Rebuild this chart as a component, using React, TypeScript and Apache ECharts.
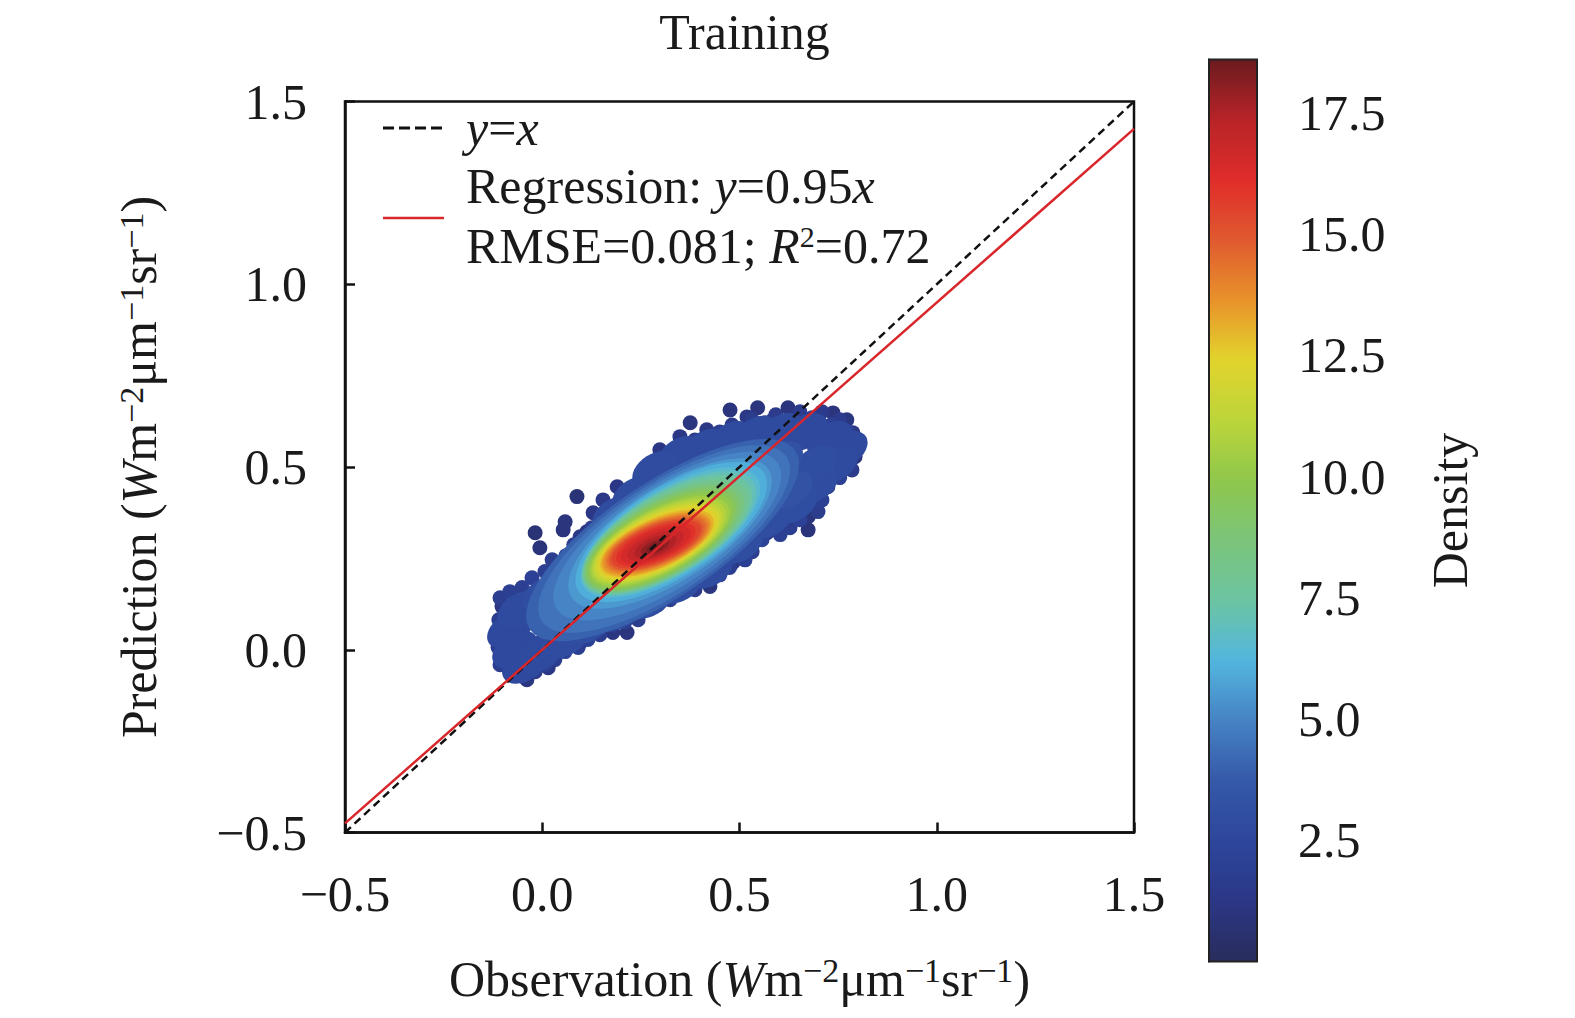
import * as echarts from "echarts"
import { useEffect, useRef } from "react"

const axisMin = -0.5
const axisMax = 1.5
const axisStep = 0.5
const densityMin = 0
const densityMax = 18.6
const densityTicks = [2.5, 5, 7.5, 10, 12.5, 15, 17.5]

const identityLine = [[-0.5, -0.5], [1.5, 1.5]]
const regressionLine = [[-0.5, -0.475], [1.5, 1.425]]

// [observation, prediction, density] - dense core, one mark per density level
const corePoints = [
    [0.305, 0.300, 4.0],
    [0.309, 0.303, 4.5],
    [0.317, 0.311, 5.0],
    [0.324, 0.318, 5.5],
    [0.327, 0.322, 6.0],
    [0.325, 0.321, 6.5],
    [0.321, 0.318, 7.0],
    [0.317, 0.315, 7.5],
    [0.313, 0.311, 8.0],
    [0.309, 0.307, 8.5],
    [0.305, 0.304, 9.0],
    [0.302, 0.301, 9.5],
    [0.300, 0.299, 10.0],
    [0.298, 0.297, 10.5],
    [0.296, 0.296, 11.0],
    [0.294, 0.294, 11.5],
    [0.293, 0.293, 12.0],
    [0.292, 0.292, 12.5],
    [0.291, 0.291, 13.0],
    [0.290, 0.290, 13.5],
    [0.290, 0.290, 14.0],
    [0.290, 0.290, 14.5],
    [0.289, 0.289, 15.0],
    [0.289, 0.289, 15.5],
    [0.288, 0.288, 16.0],
    [0.288, 0.287, 16.5],
    [0.287, 0.285, 17.0],
    [0.287, 0.283, 17.5],
    [0.286, 0.281, 18.0],
    [0.286, 0.280, 18.4],
]

// body of the cloud
const bodyPoints = [
    [-0.056, 0.110, 2.8],
    [0.007, 0.151, 3.0],
    [0.070, 0.219, 3.0],
    [0.134, 0.287, 3.0],
    [0.184, 0.369, 2.9],
    [0.235, 0.424, 2.9],
    [0.286, 0.492, 2.9],
    [0.349, 0.533, 2.8],
    [0.412, 0.553, 2.8],
    [0.476, 0.574, 2.8],
    [0.539, 0.588, 2.8],
    [0.603, 0.596, 2.8],
    [0.666, 0.596, 2.7],
    [0.729, 0.574, 2.7],
    [0.767, 0.547, 2.7],
    [0.400, 0.479, 3.4],
    [0.501, 0.506, 3.3],
    [0.603, 0.520, 3.2],
    [0.691, 0.506, 3.0],
    [0.628, 0.438, 3.3],
    [-0.069, 0.000, 2.7],
    [-0.006, -0.013, 2.8],
    [0.058, 0.028, 2.9],
    [0.121, 0.069, 3.0],
    [0.197, 0.104, 3.0],
    [0.273, 0.137, 3.0],
    [0.349, 0.178, 3.0],
    [0.425, 0.219, 2.9],
    [0.501, 0.287, 3.0],
    [0.577, 0.356, 3.0],
    [0.640, 0.397, 3.0],
    [0.691, 0.451, 2.9],
    [0.742, 0.506, 2.8],
    [-0.082, 0.055, 2.7],
    [-0.044, -0.041, 2.7],
]

// points along the upper rim of the cloud
const upperRimPoints = [
    [-0.107, 0.142, 1.8], [-0.082, 0.159, 2.0], [-0.051, 0.170, 1.9], [-0.026, 0.197, 2.1],
    [0.007, 0.214, 1.9], [0.025, 0.246, 1.7], [0.060, 0.257, 2.0], [0.080, 0.287, 1.8],
    [0.111, 0.279, 2.1], [0.126, 0.334, 1.7], [0.151, 0.356, 2.0], [0.167, 0.389, 1.8],
    [0.202, 0.411, 2.1], [0.222, 0.438, 1.8], [0.260, 0.443, 2.2], [0.278, 0.492, 1.7],
    [0.309, 0.506, 2.0], [0.329, 0.541, 1.8], [0.364, 0.552, 2.1], [0.387, 0.574, 1.7],
    [0.420, 0.566, 2.2], [0.450, 0.596, 1.8], [0.481, 0.615, 1.6], [0.506, 0.602, 2.1],
    [0.532, 0.629, 1.7], [0.565, 0.621, 2.0], [0.592, 0.643, 1.6], [0.628, 0.629, 2.0],
    [0.653, 0.651, 1.6], [0.684, 0.635, 1.9], [0.709, 0.651, 1.5], [0.734, 0.616, 2.0],
    [0.754, 0.629, 1.6], [0.775, 0.596, 1.9], [0.785, 0.561, 1.7], [0.800, 0.574, 1.4],
    [0.770, 0.506, 1.9],
]

// points along the lower rim of the cloud
const lowerRimPoints = [
    [0.785, 0.492, 1.6], [0.754, 0.471, 2.0], [0.724, 0.446, 1.8], [0.709, 0.410, 2.0],
    [0.699, 0.378, 1.7], [0.653, 0.356, 2.1], [0.628, 0.334, 1.8], [0.603, 0.315, 2.0],
    [0.557, 0.301, 2.2], [0.532, 0.268, 1.8], [0.514, 0.246, 2.0], [0.475, 0.225, 1.8],
    [0.450, 0.205, 2.1], [0.412, 0.192, 1.9], [0.387, 0.164, 1.7], [0.354, 0.159, 2.0],
    [0.324, 0.137, 1.8], [0.293, 0.123, 2.1], [0.260, 0.110, 1.9], [0.243, 0.082, 1.7],
    [0.210, 0.077, 2.0], [0.177, 0.068, 1.9], [0.146, 0.041, 1.7], [0.116, 0.028, 2.0],
    [0.091, 0.006, 1.8], [0.058, -0.005, 2.0], [0.032, -0.027, 1.7], [0.007, -0.041, 1.9],
    [-0.018, -0.060, 1.6], [-0.051, -0.071, 1.8], [-0.082, -0.060, 1.6], [-0.107, -0.041, 1.7],
    [-0.112, 0.006, 1.6], [-0.115, 0.041, 1.8], [-0.110, 0.082, 1.7],
]

// sparse points and outliers
const outlierPoints = [
    [-0.102, 0.118, 1.2], [-0.100, 0.074, 1.4], [-0.094, 0.036, 1.5], [-0.089, -0.008, 1.4],
    [-0.074, -0.054, 1.3], [-0.039, -0.082, 1.1], [-0.044, -0.035, 1.8], [-0.049, 0.129, 1.2],
    [-0.023, 0.137, 1.4], [0.015, -0.049, 1.2], [-0.006, 0.019, 2.0], [-0.074, 0.074, 1.8],
    [-0.018, 0.320, 0.8], [-0.006, 0.279, 0.9], [0.088, 0.419, 0.8], [0.058, 0.350, 1.0],
    [0.113, 0.323, 1.2], [0.053, 0.328, 1.0], [0.096, 0.309, 1.3], [0.045, 0.238, 1.2],
    [0.129, 0.375, 1.3], [0.190, 0.446, 1.2], [0.154, 0.410, 1.4], [0.255, 0.473, 1.5],
    [0.298, 0.547, 1.2], [0.316, 0.528, 1.5], [0.349, 0.583, 1.3], [0.375, 0.621, 1.1],
    [0.417, 0.602, 1.3], [0.432, 0.583, 1.5], [0.476, 0.656, 1.0], [0.519, 0.637, 1.3],
    [0.546, 0.662, 1.0], [0.585, 0.629, 1.4], [0.623, 0.662, 1.0], [0.653, 0.637, 1.3],
    [0.686, 0.610, 1.5], [0.737, 0.648, 1.0], [0.772, 0.629, 1.1], [0.787, 0.594, 1.2],
    [0.793, 0.528, 1.0], [0.755, 0.528, 1.6], [0.780, 0.555, 1.3], [0.686, 0.473, 1.7],
    [0.679, 0.410, 1.2], [0.674, 0.364, 1.0], [0.674, 0.328, 0.9], [0.636, 0.410, 1.4],
    [0.603, 0.348, 1.3], [0.570, 0.320, 1.4], [0.501, 0.282, 1.5], [0.483, 0.238, 1.2],
    [0.433, 0.238, 1.4], [0.425, 0.173, 1.0], [0.382, 0.200, 1.3], [0.298, 0.145, 1.4],
    [0.273, 0.145, 1.5], [0.215, 0.047, 1.0], [0.179, 0.047, 1.1], [0.139, 0.074, 1.4],
    [0.096, 0.019, 1.3], [0.062, 0.008, 1.4], [0.027, -0.008, 1.5],
]

const densityColors = [
    "#292c5c", "#2b3785", "#2d469c", "#3559a8", "#4682c4", "#52b6de",
    "#6cc4a2", "#7bc47a", "#8fc74c", "#bcd53a", "#e2d42c", "#e8922a",
    "#e05a2f", "#e02c2a", "#b82428", "#6a1a1f",
]

// mark outline per density: [density, width px, height px, tilt deg]
const contourShapes = [
    [4.0, 320, 114, 34],
    [4.5, 295, 108, 34],
    [5.5, 235, 94, 33],
    [6.5, 205, 85, 32],
    [8.0, 185, 77, 30],
    [9.5, 166, 69, 29],
    [11.0, 147, 60, 27],
    [12.5, 128, 52, 25],
    [14.0, 112, 44, 23],
    [15.5, 95, 36, 22],
    [16.5, 75, 28, 22],
    [17.5, 45, 18, 22],
    [18.5, 16, 7, 22],
]

const ELLIPSE = "path://M0,50A50,50,0,1,1,100,50A50,50,0,1,1,0,50Z"
const serif = "Liberation Serif"
const ink = "#1a1a1a"

function markShape(d: number) {
    if (d < 2.6) return { size: [15, 15], rotate: 0 }
    if (d < 4) return { size: [50, 32], rotate: 32 }
    const s = contourShapes
    for (let i = 1; i < s.length; i++) {
        if (d <= s[i][0]) {
            const t = (d - s[i - 1][0]) / (s[i][0] - s[i - 1][0])
            const lerp = (k: number) => s[i - 1][k] + (s[i][k] - s[i - 1][k]) * t
            return { size: [lerp(1), lerp(2)], rotate: lerp(3) }
        }
    }
    const last = s[s.length - 1]
    return { size: [last[1], last[2]], rotate: last[3] }
}

const tickText = (v: number) => (v < 0 ? "\u2212" : "") + Math.abs(v).toFixed(1)

const nameRich = {
    i: { fontFamily: serif, fontSize: 50, fontStyle: "italic", color: ink },
    s: { fontFamily: serif, fontSize: 34, color: ink, verticalAlign: "top" },
}
const legendRich = {
    i: { fontFamily: serif, fontSize: 50, fontStyle: "italic", fill: ink },
    s: { fontFamily: serif, fontSize: 30, fill: ink, verticalAlign: "top" },
}
const unitName = "({i|W}m{s|\u22122}\u03bcm{s|\u22121}sr{s|\u22121})"

const legendText = (x: number, y: number, text: string) => ({
    type: "text",
    x,
    y,
    z: 100,
    style: {
        text,
        fill: ink,
        fontFamily: serif,
        fontSize: 50,
        textAlign: "left",
        textVerticalAlign: "middle",
        align: "left",
        verticalAlign: "middle",
        rich: legendRich,
    },
})

const TrainingDensityChart: React.FC = () => {
    const chartDivRef = useRef<HTMLDivElement | null>(null)

    useEffect(() => {
        if (!chartDivRef.current) return
        const chart = echarts.init(chartDivRef.current, null, { renderer: "svg" })

        const points = [...outlierPoints, ...upperRimPoints, ...lowerRimPoints, ...bodyPoints, ...corePoints]
            .sort((a, b) => a[2] - b[2])
        const scatterData = points.map(p => {
            const m = markShape(p[2])
            return { value: p, symbolSize: m.size, symbolRotate: m.rotate }
        })

        const axisCommon = {
            type: "value",
            min: axisMin,
            max: axisMax,
            interval: axisStep,
            gridIndex: 0,
            axisLine: { show: true, onZero: false, lineStyle: { color: "#111", width: 2.5 } },
            axisTick: { show: true, inside: true, length: 10, lineStyle: { color: "#111", width: 2.5 } },
            splitLine: { show: false },
            nameLocation: "middle",
            nameTextStyle: { fontFamily: serif, fontSize: 50, color: ink, rich: nameRich },
        }

        chart.setOption({
            animation: false,
            textStyle: { fontFamily: serif },
            title: {
                text: "Training",
                left: 739.5,
                top: 2,
                textAlign: "center",
                textStyle: { fontFamily: serif, fontSize: 50, fontWeight: "normal", color: ink },
            },
            grid: [
                { left: 345, top: 101.5, width: 789, height: 731, show: true, borderColor: "#111", borderWidth: 2.5 },
                { left: 1209, top: 59.5, width: 48, height: 902, show: false },
            ],
            xAxis: [
                {
                    ...axisCommon,
                    axisLabel: { margin: 36, fontFamily: serif, fontSize: 50, color: ink, formatter: tickText },
                    name: "Observation " + unitName,
                    nameGap: 121,
                },
                { type: "value", gridIndex: 1, show: false, min: 0, max: 1 },
            ],
            yAxis: [
                {
                    ...axisCommon,
                    axisLabel: { margin: 38, fontFamily: serif, fontSize: 50, color: ink, formatter: tickText },
                    name: "Prediction " + unitName,
                    nameRotate: 90,
                    nameGap: 181,
                },
                {
                    type: "value",
                    gridIndex: 1,
                    position: "right",
                    min: densityMin,
                    max: densityMax,
                    axisLine: { show: true, lineStyle: { color: "#222", width: 2 } },
                    axisTick: {
                        show: true,
                        inside: false,
                        length: 11,
                        customValues: densityTicks,
                        lineStyle: { color: "#222", width: 2 },
                    },
                    axisLabel: {
                        customValues: densityTicks,
                        margin: 41,
                        fontFamily: serif,
                        fontSize: 50,
                        color: ink,
                        formatter: (v: number) => v.toFixed(1),
                    },
                    splitLine: { show: false },
                    name: "Density",
                    nameLocation: "middle",
                    nameRotate: 90,
                    nameGap: 168,
                    nameTextStyle: { fontFamily: serif, fontSize: 50, color: ink },
                },
            ],
            visualMap: {
                type: "continuous",
                min: densityMin,
                max: densityMax,
                dimension: 2,
                seriesIndex: 0,
                calculable: false,
                hoverLink: false,
                orient: "vertical",
                left: 1209,
                top: 59.5,
                itemWidth: 48,
                itemHeight: 902,
                padding: 0,
                inRange: { color: densityColors },
            },
            graphic: [
                {
                    type: "line",
                    z: 100,
                    shape: { x1: 383, y1: 128, x2: 444, y2: 128 },
                    style: { stroke: "#111", lineWidth: 3, lineDash: [11, 5] },
                },
                {
                    type: "line",
                    z: 100,
                    shape: { x1: 383, y1: 218, x2: 444, y2: 218 },
                    style: { stroke: "#d8262b", lineWidth: 2.5 },
                },
                legendText(466, 128, "{i|y}={i|x}"),
                legendText(466, 186, "Regression: {i|y}=0.95{i|x}"),
                legendText(466, 246, "RMSE=0.081; {i|R}{s|2}=0.72"),
                {
                    type: "rect",
                    z: 100,
                    shape: { x: 1209, y: 59.5, width: 48, height: 902 },
                    style: { fill: "transparent", stroke: "#222", lineWidth: 2 },
                },
            ],
            series: [
                {
                    type: "scatter",
                    xAxisIndex: 0,
                    yAxisIndex: 0,
                    symbol: ELLIPSE,
                    data: scatterData,
                    itemStyle: { opacity: 1 },
                    emphasis: { disabled: true },
                    silent: true,
                    z: 2,
                },
                {
                    type: "line",
                    xAxisIndex: 0,
                    yAxisIndex: 0,
                    data: identityLine,
                    symbol: "none",
                    silent: true,
                    lineStyle: { color: "#111", width: 2.5, type: [8, 5] },
                    z: 4,
                },
                {
                    type: "line",
                    xAxisIndex: 0,
                    yAxisIndex: 0,
                    data: regressionLine,
                    symbol: "none",
                    silent: true,
                    lineStyle: { color: "#d8262b", width: 2.5 },
                    z: 5,
                },
            ],
        })

        return () => {
            chart.dispose()
        }
    }, [])

    return (
        <div
            ref={chartDivRef}
            style={{ position: "fixed", left: 0, top: 0, width: 1575, height: 1018, background: "#fff" }}
        ></div>
    )
}

export default TrainingDensityChart
